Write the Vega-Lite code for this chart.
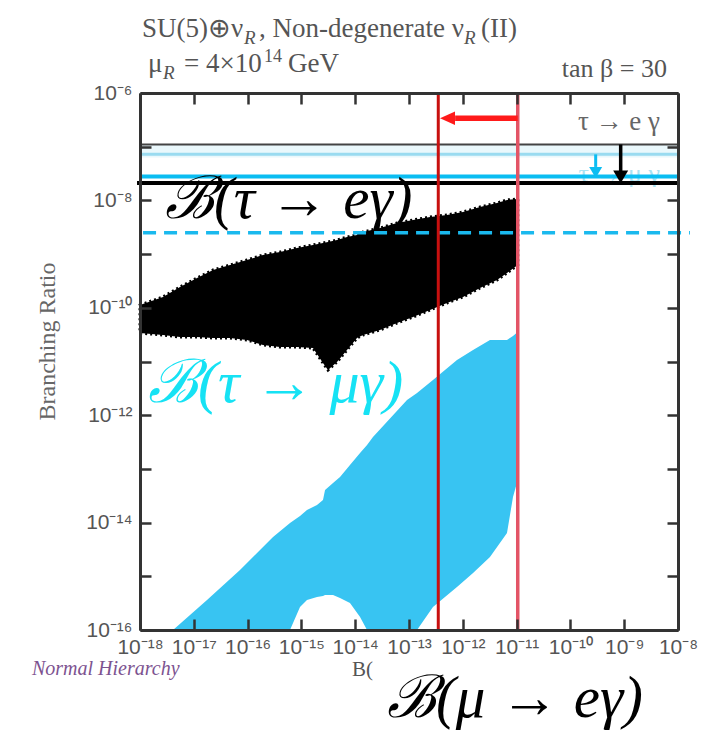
{
  "$schema": "https://vega.github.io/schema/vega-lite/v6.json",
  "width": 538,
  "height": 537,
  "autosize": {"type": "none"},
  "padding": {"left": 140, "top": 93, "right": 42, "bottom": 112},
  "background": "white",
  "config": {"view": {"stroke": null}},
  "datasets": {
    "band": [{"x": 1e-18, "x2": 1e-8, "y": 1.1e-7, "y2": 6.3e-8}],
    "cyan": [
      {"x": 4.11e-18, "y": 1e-16, "y2": 1e-16},
      {"x": 1.76e-17, "y": 3.62e-16, "y2": 1e-16},
      {"x": 7.22e-17, "y": 1.31e-15, "y2": 1e-16},
      {"x": 2.97e-16, "y": 5.39e-15, "y2": 1e-16},
      {"x": 6.14e-16, "y": 9.83e-15, "y2": 1e-16},
      {"x": 9.42e-16, "y": 1.33e-14, "y2": 2.68e-16},
      {"x": 1.27e-15, "y": 1.72e-14, "y2": 3.62e-16},
      {"x": 1.95e-15, "y": 2.13e-14, "y2": 4.12e-16},
      {"x": 2.52e-15, "y": 2.64e-14, "y2": 4.3e-16},
      {"x": 2.75e-15, "y": 4.05e-14, "y2": 4.49e-16},
      {"x": 3.87e-15, "y": 5.46e-14, "y2": 4.49e-16},
      {"x": 5.22e-15, "y": 7.07e-14, "y2": 3.94e-16},
      {"x": 8.0e-15, "y": 1.18e-13, "y2": 3.18e-16},
      {"x": 1.23e-14, "y": 1.98e-13, "y2": 1.75e-16},
      {"x": 1.66e-14, "y": 2.79e-13, "y2": 1e-16},
      {"x": 2.14e-14, "y": 3.93e-13, "y2": 1e-16},
      {"x": 9.18e-14, "y": 1.92e-12, "y2": 1e-16},
      {"x": 1.41e-13, "y": 2.59e-12, "y2": 1e-16},
      {"x": 2.79e-13, "y": 4.52e-12, "y2": 2.68e-16},
      {"x": 7.8e-13, "y": 1.07e-11, "y2": 6.32e-16},
      {"x": 1.55e-12, "y": 1.64e-11, "y2": 1.15e-15},
      {"x": 3.2e-12, "y": 2.52e-11, "y2": 2.29e-15},
      {"x": 6.63e-12, "y": 2.52e-11, "y2": 6.4e-15},
      {"x": 8.57e-12, "y": 2.99e-11, "y2": 3.0e-14},
      {"x": 1.05e-11, "y": 3.54e-11, "y2": 6.21e-14}
    ],
    "black": [
      {"x": 1e-18, "y": 1.13e-10, "y2": 3.39e-11},
      {"x": 2.68e-18, "y": 1.59e-10, "y2": 3.12e-11},
      {"x": 5.54e-18, "y": 2.44e-10, "y2": 2.86e-11},
      {"x": 1.15e-17, "y": 3.59e-10, "y2": 2.86e-11},
      {"x": 2.28e-17, "y": 5.06e-10, "y2": 2.74e-11},
      {"x": 4.71e-17, "y": 6.27e-10, "y2": 2.74e-11},
      {"x": 9.75e-17, "y": 7.76e-10, "y2": 2.52e-11},
      {"x": 1.93e-16, "y": 9.62e-10, "y2": 2.03e-11},
      {"x": 4.0e-16, "y": 1.09e-9, "y2": 1.86e-11},
      {"x": 8.28e-16, "y": 1.3e-9, "y2": 1.86e-11},
      {"x": 1.64e-15, "y": 1.48e-9, "y2": 1.78e-11},
      {"x": 2.52e-15, "y": 1.61e-9, "y2": 9.38e-12},
      {"x": 3.12e-15, "y": 1.68e-9, "y2": 6.95e-12},
      {"x": 4.59e-15, "y": 1.83e-9, "y2": 9.79e-12},
      {"x": 7.04e-15, "y": 2.08e-9, "y2": 1.64e-11},
      {"x": 1.08e-14, "y": 2.27e-9, "y2": 2.74e-11},
      {"x": 1.4e-14, "y": 2.58e-9, "y2": 3.12e-11},
      {"x": 2.89e-14, "y": 3.06e-9, "y2": 3.86e-11},
      {"x": 5.98e-14, "y": 3.8e-9, "y2": 5.21e-11},
      {"x": 1.19e-13, "y": 4.32e-9, "y2": 6.74e-11},
      {"x": 2.46e-13, "y": 4.91e-9, "y2": 9.1e-11},
      {"x": 5.08e-13, "y": 5.35e-9, "y2": 1.23e-10},
      {"x": 1.01e-12, "y": 6.08e-9, "y2": 1.59e-10},
      {"x": 2.09e-12, "y": 7.53e-9, "y2": 2.34e-10},
      {"x": 4.32e-12, "y": 8.95e-9, "y2": 3.29e-10},
      {"x": 6.63e-12, "y": 1.02e-8, "y2": 4.45e-10},
      {"x": 1.05e-11, "y": 1.06e-8, "y2": 6.27e-10}
    ],
    "hrules": [
      {"kind": "te_old", "x": 1e-18, "x2": 1e-8, "y": 1.1e-7},
      {"kind": "tm_old", "x": 1e-18, "x2": 1e-8, "y": 7.2e-8},
      {"kind": "tm_new", "x": 1e-18, "x2": 1e-8, "y": 2.8e-8},
      {"kind": "te_new", "x": 8.8e-19, "x2": 1e-8, "y": 2.1e-8},
      {"kind": "tm_reach", "x": 1.14e-18, "x2": 1.67e-8, "y": 2.5e-9}
    ],
    "vrules": [
      {"kind": "meg", "x": 3.5e-13, "y": 1e-16, "y2": 1e-6},
      {"kind": "mega", "x": 1.05e-11, "y": 1e-16, "y2": 1e-6}
    ],
    "shafts": [
      {"kind": "red", "x": 7.2e-13, "x2": 1.05e-11, "y": 3.4e-7, "y2": 3.4e-7},
      {"kind": "black", "x": 8.6e-10, "x2": 8.6e-10, "y": 1.1e-7, "y2": 3.4e-8},
      {"kind": "cyan", "x": 2.95e-10, "x2": 2.95e-10, "y": 7.2e-8, "y2": 4.2e-8}
    ],
    "heads": [
      {"kind": "red", "x": 5.2e-13, "y": 3.4e-7},
      {"kind": "black", "x": 8.6e-10, "y": 2.73e-8},
      {"kind": "cyan", "x": 2.95e-10, "y": 3.31e-8}
    ],
    "texts": [
      {"kind": "head", "x": 1.089e-18, "y": 1.1e-5, "text": "SU(5)⊕ν"},
      {"kind": "head_sub", "x": 8.57e-17, "y": 8.17e-6, "text": "R"},
      {"kind": "head", "x": 1.63e-16, "y": 1.1e-5, "text": ", Non-degenerate ν"},
      {"kind": "head_sub", "x": 1.053e-12, "y": 8.17e-6, "text": "R"},
      {"kind": "head", "x": 2.18e-12, "y": 1.1e-5, "text": "(II)"},
      {"kind": "head", "x": 1.408e-18, "y": 2.46e-6, "text": "μ"},
      {"kind": "head_sub", "x": 2.676e-18, "y": 1.824e-6, "text": "R"},
      {"kind": "head", "x": 6.57e-18, "y": 2.46e-6, "text": "= 4×10"},
      {"kind": "head_sup", "x": 2.02e-16, "y": 3.77e-6, "text": "14"},
      {"kind": "head", "x": 5.64e-16, "y": 2.46e-6, "text": "GeV"},
      {"kind": "head_right", "x": 6.24e-9, "y": 1.99e-6, "text": "tan β = 30"},
      {"kind": "proc", "x": 4.62e-9, "y": 2.05e-7, "text": "τ → e γ"},
      {"kind": "proc_faint", "x": 4.62e-9, "y": 2.2e-8, "text": "τ → μ γ"},
      {"kind": "xtitle", "x": 8.72e-15, "y": 1.39e-17, "text": "B("},
      {"kind": "hier", "x": 9.8e-21, "y": 1.452e-17, "text": "Normal Hierarchy"},
      {"kind": "big_black", "x": 2.92e-18, "y": 4.7e-9, "text": "ℬ(τ → eγ)"},
      {"kind": "big_cyan", "x": 1.408e-18, "y": 1.762e-12, "text": "ℬ(τ → μγ)"},
      {"kind": "big_black", "x": 3.9e-14, "y": 2.4e-18, "text": "ℬ(μ → eγ)"}
    ]
  },
  "encoding": {
    "x": {"field": "x", "type": "quantitative", "scale": {"type": "log", "domain": [1e-18, 1e-8], "nice": false}, "axis": null},
    "y": {"field": "y", "type": "quantitative", "scale": {"type": "log", "domain": [1e-16, 1e-6], "nice": false}, "axis": null}
  },
  "layer": [
    {
      "data": {"name": "band"},
      "mark": {"type": "rect", "color": "#eaf8fc"},
      "encoding": {"x2": {"field": "x2"}, "y2": {"field": "y2"}}
    },
    {
      "data": {"name": "texts"},
      "transform": [{"filter": "datum.kind == 'proc_faint'"}],
      "mark": {"type": "text", "align": "right", "baseline": "alphabetic", "font": "Liberation Serif", "fontSize": 26, "color": "#a9e3f4"},
      "encoding": {"text": {"field": "text"}}
    },
    {
      "data": {"name": "cyan"},
      "mark": {"type": "area", "color": "#38c4f2", "interpolate": "linear"},
      "encoding": {
        "x": {
          "field": "x", "type": "quantitative",
          "scale": {"type": "log", "domain": [1e-18, 1e-8], "nice": false},
          "axis": {
            "orient": "bottom", "title": null, "grid": false, "zindex": 1,
            "values": [1e-18, 1e-17, 1e-16, 1e-15, 1e-14, 1e-13, 1e-12, 1e-11, 1e-10, 1e-9, 1e-8],
            "labelExpr": "'10' + ['⁻¹⁸','⁻¹⁷','⁻¹⁶','⁻¹⁵','⁻¹⁴','⁻¹³','⁻¹²','⁻¹¹','⁻¹⁰','⁻⁹','⁻⁸'][round(log(datum.value) / LN10) + 18]",
            "labelFont": "Liberation Sans", "labelFontSize": 21, "labelColor": "#555",
            "labelPadding": 17, "labelOverlap": false, "labelBound": false, "labelFlush": false,
            "tickSize": -11, "tickWidth": 2.5, "tickColor": "#333",
            "domain": true, "domainColor": "#333", "domainWidth": 3
          }
        },
        "y": {
          "field": "y", "type": "quantitative",
          "scale": {"type": "log", "domain": [1e-16, 1e-6], "nice": false},
          "axis": {
            "orient": "left", "grid": false, "zindex": 1,
            "values": [1e-16, 1e-15, 1e-14, 1e-13, 1e-12, 1e-11, 1e-10, 1e-9, 1e-8, 1e-7, 1e-6],
            "labelExpr": "round(log(datum.value) / LN10) % 2 == 0 ? '10' + ['⁻¹⁶','','⁻¹⁴','','⁻¹²','','⁻¹⁰','','⁻⁸','','⁻⁶'][round(log(datum.value) / LN10) + 16] : ''",
            "labelFont": "Liberation Sans", "labelFontSize": 21, "labelColor": "#555",
            "labelPadding": 19, "labelOverlap": false, "labelBound": false, "labelFlush": false,
            "tickSize": -11, "tickWidth": 2.5, "tickColor": "#333",
            "domain": true, "domainColor": "#333", "domainWidth": 3,
            "title": "Branching Ratio", "titleFont": "Liberation Serif", "titleFontSize": 24,
            "titleFontWeight": "normal", "titleColor": "#666",
            "titleX": -93, "titleY": 248, "titleAngle": -90, "titleAlign": "center", "titleBaseline": "middle"
          }
        },
        "y2": {"field": "y2"}
      }
    },
    {
      "data": {"name": "black"},
      "mark": {"type": "area", "color": "#000000", "interpolate": "linear"},
      "encoding": {
        "x": {
          "field": "x", "type": "quantitative",
          "scale": {"type": "log", "domain": [1e-18, 1e-8], "nice": false},
          "axis": {
            "orient": "top", "title": null, "grid": false, "labels": false, "zindex": 1,
            "values": [1e-18, 1e-17, 1e-16, 1e-15, 1e-14, 1e-13, 1e-12, 1e-11, 1e-10, 1e-9, 1e-8],
            "tickSize": -11, "tickWidth": 2.5, "tickColor": "#333",
            "domain": true, "domainColor": "#333", "domainWidth": 3
          }
        },
        "y": {
          "field": "y", "type": "quantitative",
          "scale": {"type": "log", "domain": [1e-16, 1e-6], "nice": false},
          "axis": {
            "orient": "right", "title": null, "grid": false, "labels": false, "zindex": 1,
            "values": [1e-16, 1e-15, 1e-14, 1e-13, 1e-12, 1e-11, 1e-10, 1e-9, 1e-8, 1e-7, 1e-6],
            "tickSize": -11, "tickWidth": 2.5, "tickColor": "#333",
            "domain": true, "domainColor": "#333", "domainWidth": 3
          }
        },
        "y2": {"field": "y2"}
      }
    },
    {
      "data": {"name": "black"},
      "mark": {"type": "area", "filled": false, "stroke": "#000000", "strokeWidth": 3, "strokeDash": [2, 3], "interpolate": "linear"},
      "encoding": {"y2": {"field": "y2"}}
    },
    {
      "data": {"name": "hrules"},
      "transform": [{"filter": "datum.kind == 'te_old'"}],
      "mark": {"type": "rule", "color": "#444", "strokeWidth": 2},
      "encoding": {"x2": {"field": "x2"}}
    },
    {
      "data": {"name": "hrules"},
      "transform": [{"filter": "datum.kind == 'tm_old'"}],
      "mark": {"type": "rule", "color": "#9adbf0", "strokeWidth": 3},
      "encoding": {"x2": {"field": "x2"}}
    },
    {
      "data": {"name": "hrules"},
      "transform": [{"filter": "datum.kind == 'tm_new'"}],
      "mark": {"type": "rule", "color": "#0bbdf2", "strokeWidth": 4},
      "encoding": {"x2": {"field": "x2"}}
    },
    {
      "data": {"name": "hrules"},
      "transform": [{"filter": "datum.kind == 'te_new'"}],
      "mark": {"type": "rule", "color": "#000000", "strokeWidth": 4},
      "encoding": {"x2": {"field": "x2"}}
    },
    {
      "data": {"name": "hrules"},
      "transform": [{"filter": "datum.kind == 'tm_reach'"}],
      "mark": {"type": "rule", "color": "#1ab9ee", "strokeWidth": 3.5, "strokeDash": [13, 8]},
      "encoding": {"x2": {"field": "x2"}}
    },
    {
      "data": {"name": "vrules"},
      "transform": [{"filter": "datum.kind == 'meg'"}],
      "mark": {"type": "rule", "color": "#c8100f", "strokeWidth": 3},
      "encoding": {"y2": {"field": "y2"}}
    },
    {
      "data": {"name": "vrules"},
      "transform": [{"filter": "datum.kind == 'mega'"}],
      "mark": {"type": "rule", "color": "#e35466", "strokeWidth": 3.5},
      "encoding": {"y2": {"field": "y2"}}
    },
    {
      "data": {"name": "shafts"},
      "transform": [{"filter": "datum.kind == 'red'"}],
      "mark": {"type": "rule", "color": "#ff1a1a", "strokeWidth": 5.5},
      "encoding": {"x2": {"field": "x2"}, "y2": {"field": "y2"}}
    },
    {
      "data": {"name": "shafts"},
      "transform": [{"filter": "datum.kind == 'black'"}],
      "mark": {"type": "rule", "color": "#000000", "strokeWidth": 3.5},
      "encoding": {"x2": {"field": "x2"}, "y2": {"field": "y2"}}
    },
    {
      "data": {"name": "shafts"},
      "transform": [{"filter": "datum.kind == 'cyan'"}],
      "mark": {"type": "rule", "color": "#0bbdf2", "strokeWidth": 3},
      "encoding": {"x2": {"field": "x2"}, "y2": {"field": "y2"}}
    },
    {
      "data": {"name": "heads"},
      "transform": [{"filter": "datum.kind == 'red'"}],
      "mark": {"type": "point", "shape": "M1,-0.9L1,0.9L-1,0Z", "size": 225, "filled": true, "color": "#ff1a1a", "opacity": 1}
    },
    {
      "data": {"name": "heads"},
      "transform": [{"filter": "datum.kind == 'black'"}],
      "mark": {"type": "point", "shape": "M-1,-0.85L1,-0.85L0,0.85Z", "size": 225, "filled": true, "color": "#000000", "opacity": 1}
    },
    {
      "data": {"name": "heads"},
      "transform": [{"filter": "datum.kind == 'cyan'"}],
      "mark": {"type": "point", "shape": "M-1,-0.85L1,-0.85L0,0.85Z", "size": 169, "filled": true, "color": "#0bbdf2", "opacity": 1}
    },
    {
      "data": {"name": "texts"},
      "transform": [{"filter": "datum.kind == 'head'"}],
      "mark": {"type": "text", "align": "left", "baseline": "alphabetic", "font": "Liberation Serif", "fontSize": 27, "color": "#555"},
      "encoding": {"text": {"field": "text"}}
    },
    {
      "data": {"name": "texts"},
      "transform": [{"filter": "datum.kind == 'head_sub'"}],
      "mark": {"type": "text", "align": "left", "baseline": "alphabetic", "font": "Liberation Serif", "fontStyle": "italic", "fontSize": 19, "color": "#555"},
      "encoding": {"text": {"field": "text"}}
    },
    {
      "data": {"name": "texts"},
      "transform": [{"filter": "datum.kind == 'head_sup'"}],
      "mark": {"type": "text", "align": "left", "baseline": "alphabetic", "font": "Liberation Serif", "fontSize": 18, "color": "#555"},
      "encoding": {"text": {"field": "text"}}
    },
    {
      "data": {"name": "texts"},
      "transform": [{"filter": "datum.kind == 'head_right'"}],
      "mark": {"type": "text", "align": "right", "baseline": "alphabetic", "font": "Liberation Serif", "fontSize": 26, "color": "#555"},
      "encoding": {"text": {"field": "text"}}
    },
    {
      "data": {"name": "texts"},
      "transform": [{"filter": "datum.kind == 'proc'"}],
      "mark": {"type": "text", "align": "right", "baseline": "alphabetic", "font": "Liberation Serif", "fontSize": 27, "color": "#666"},
      "encoding": {"text": {"field": "text"}}
    },
    {
      "data": {"name": "texts"},
      "transform": [{"filter": "datum.kind == 'xtitle'"}],
      "mark": {"type": "text", "align": "left", "baseline": "alphabetic", "font": "Liberation Serif", "fontSize": 21, "color": "#555"},
      "encoding": {"text": {"field": "text"}}
    },
    {
      "data": {"name": "texts"},
      "transform": [{"filter": "datum.kind == 'hier'"}],
      "mark": {"type": "text", "align": "left", "baseline": "alphabetic", "font": "Liberation Serif", "fontStyle": "italic", "fontSize": 20, "color": "#7d5390"},
      "encoding": {"text": {"field": "text"}}
    },
    {
      "data": {"name": "texts"},
      "transform": [{"filter": "datum.kind == 'big_black'"}],
      "mark": {"type": "text", "align": "left", "baseline": "alphabetic", "font": "Liberation Serif", "fontStyle": "italic", "fontSize": 59, "color": "#000000"},
      "encoding": {"text": {"field": "text"}}
    },
    {
      "data": {"name": "texts"},
      "transform": [{"filter": "datum.kind == 'big_cyan'"}],
      "mark": {"type": "text", "align": "left", "baseline": "alphabetic", "font": "Liberation Serif", "fontStyle": "italic", "fontSize": 60, "color": "#16e2f4"},
      "encoding": {"text": {"field": "text"}}
    }
  ],
  "resolve": {"axis": {"x": "independent", "y": "independent"}}
}
